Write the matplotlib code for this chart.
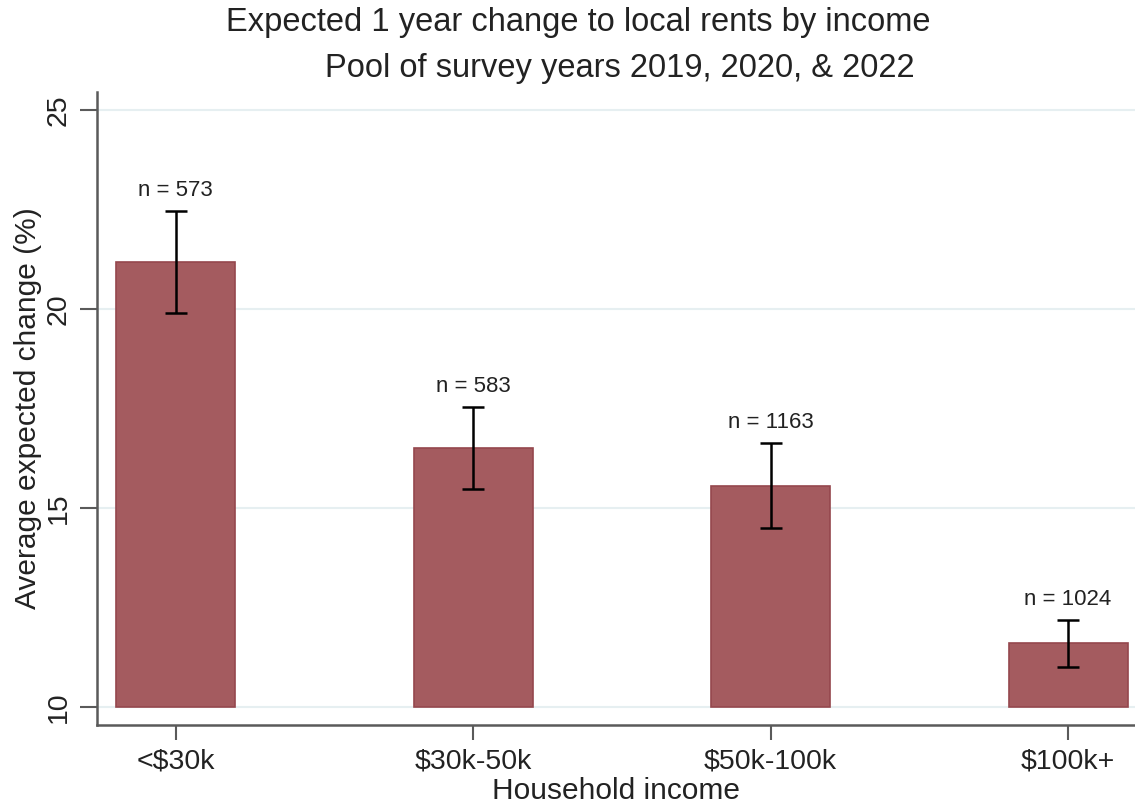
import matplotlib
matplotlib.use("Agg")
import matplotlib.pyplot as plt
import numpy as np

plt.rcParams['font.family'] = ['Liberation Sans', 'DejaVu Sans']

# mean expected 1-year rent change by household income, with 95% CIs
income = ["<$30k", "$30k-50k", "$50k-100k", "$100k+"]
mean_change = [21.19, 16.52, 15.55, 11.62]
ci_low = [19.89, 15.49, 14.51, 11.01]
ci_high = [22.47, 17.54, 16.64, 12.20]
n_obs = [573, 583, 1163, 1024]

bar_color = "#a45b5f"
edge_color = "#95474d"
axis_color = "#5a5a5a"
text_color = "#222222"

fig = plt.figure(figsize=(11.35, 8.07), dpi=100)
ax = fig.add_axes([97 / 1135, 82 / 807, 1 - 97 / 1135, (725 - 92) / 807])

x = np.arange(len(income))
base = 10
heights = [m - base for m in mean_change]
ax.bar(x, heights, bottom=base, width=0.4, color=bar_color,
       edgecolor=edge_color, linewidth=1.2, zorder=2)

yerr = [np.array(mean_change) - np.array(ci_low),
        np.array(ci_high) - np.array(mean_change)]
ax.errorbar(x, mean_change, yerr=yerr, fmt="none", ecolor="black",
            elinewidth=1.8, capsize=8, capthick=1.8, zorder=3)

for xi, hi, n in zip(x, ci_high, n_obs):
    ax.annotate(f"n = {n}", (xi, hi), xytext=(0, 14.5), textcoords="offset points",
                ha="center", va="center", fontsize=16, color=text_color)

ax.set_ylim(9.55, 25.45)
ax.set_xlim(-0.264, 3.225)
ax.set_yticks([10, 15, 20, 25])
ax.set_xticks(x)
ax.set_xticklabels(income)
ax.yaxis.grid(True, color="#e6eff1", linewidth=1.5, zorder=0)
ax.set_axisbelow(True)

for s in ["top", "right"]:
    ax.spines[s].set_visible(False)
for s in ["left", "bottom"]:
    ax.spines[s].set_color(axis_color)
    ax.spines[s].set_linewidth(1.8)

ax.tick_params(axis="y", length=12, width=1.5, color=axis_color, labelsize=20.5,
               labelcolor=text_color, pad=6)
ax.tick_params(axis="x", length=11, width=1.5, color=axis_color, labelsize=20.5,
               labelcolor=text_color, pad=6)
for lbl in ax.get_yticklabels():
    lbl.set_rotation(90)
    lbl.set_va("center")

ax.set_ylabel("Average expected change (%)", fontsize=21.5, color=text_color, labelpad=3)
ax.set_xlabel("Household income", fontsize=21.5, color=text_color, labelpad=2)

fig.text(578 / 1135, 1 - 23 / 807, "Expected 1 year change to local rents by income",
         ha="center", va="center", fontsize=23.5, color=text_color)
fig.text(620 / 1135, 1 - 68 / 807, "Pool of survey years 2019, 2020, & 2022",
         ha="center", va="center", fontsize=23.5, color=text_color)

fig.savefig("out.png", dpi=100)
